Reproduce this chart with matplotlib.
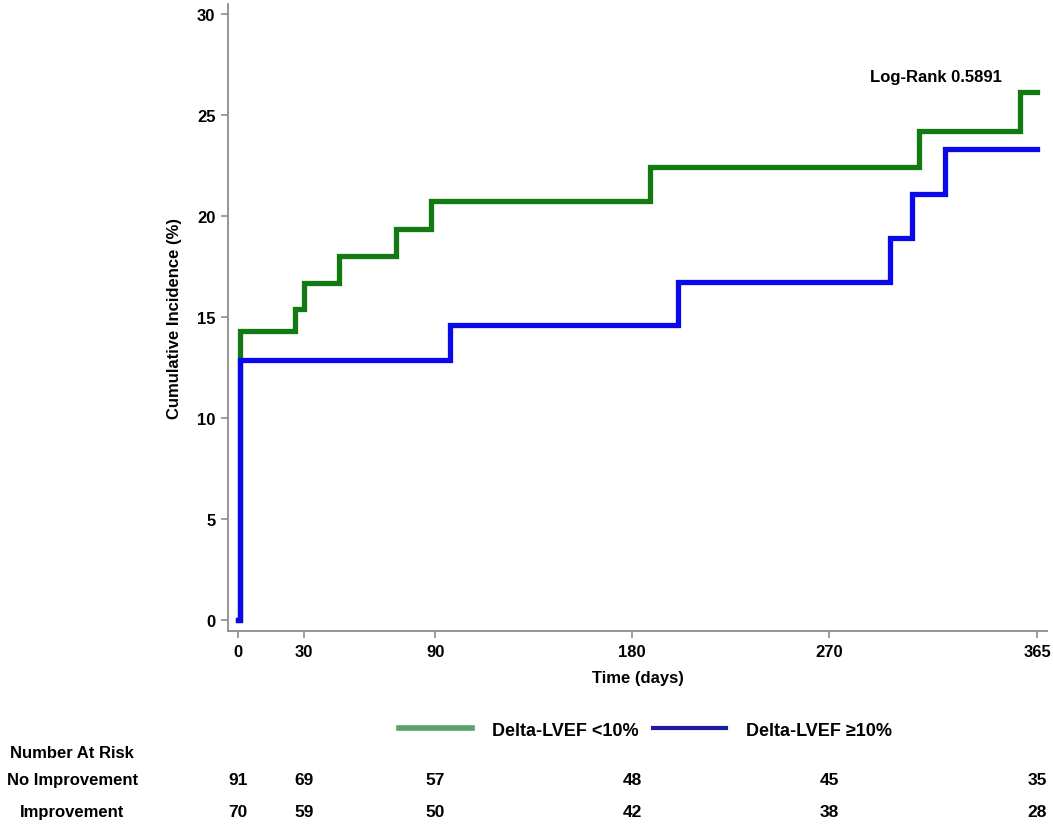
import matplotlib
matplotlib.use('Agg')
import matplotlib.pyplot as plt
from matplotlib.lines import Line2D
from matplotlib.transforms import blended_transform_factory

# step data (days, cumulative incidence %)
no_impr_days = [0, 1, 26, 30, 46, 72, 88, 188, 311, 357, 365]
no_impr_pct = [0, 14.3, 15.4, 16.7, 18.0, 19.35, 20.75, 22.45, 24.2, 26.15, 26.15]
impr_days = [0, 1, 97, 201, 298, 308, 323, 365]
impr_pct = [0, 12.85, 14.6, 16.75, 18.9, 21.1, 23.3, 23.3]

x_ticks = [0, 30, 90, 180, 270, 365]
y_ticks = [0, 5, 10, 15, 20, 25, 30]
risk_days = [0, 30, 90, 180, 270, 365]
risk_no_impr = [91, 69, 57, 48, 45, 35]
risk_impr = [70, 59, 50, 42, 38, 28]

narrow = ['Liberation Sans Narrow', 'Liberation Sans', 'DejaVu Sans']
plt.rcParams['font.family'] = ['Liberation Sans', 'DejaVu Sans']
plt.rcParams['font.weight'] = 'bold'

fig = plt.figure(figsize=(10.53, 8.28), dpi=100)
ax = fig.add_axes([0.2165, 0.2367, 0.7778, 0.7573])

ax.step(no_impr_days, no_impr_pct, where='post', color='#137a13', lw=3.8, solid_joinstyle='miter')
ax.step(impr_days, impr_pct, where='post', color='#0a0ae8', lw=3.8, solid_joinstyle='miter')

ax.set_xlim(-4.6, 369.5)
ax.set_ylim(-0.55, 30.5)
ax.set_xticks(x_ticks)
ax.set_yticks(y_ticks)
for s in ['top', 'right']:
    ax.spines[s].set_visible(False)
for s in ['left', 'bottom']:
    ax.spines[s].set_color('#8c8c8c')
    ax.spines[s].set_linewidth(1.3)
ax.tick_params(colors='#8c8c8c', labelcolor='black', length=5, width=1.2, labelsize=12, pad=4)
for lab in ax.get_xticklabels() + ax.get_yticklabels():
    lab.set_fontweight('bold')

ax.set_xlabel('Time (days)', fontsize=12, fontweight='bold', labelpad=8)
ax.set_ylabel('Cumulative Incidence (%)', fontsize=12, fontweight='bold', labelpad=11)

ax.text(349, 26.9, 'Log-Rank 0.5891', ha='right', va='center', fontsize=12, fontweight='bold')

# legend
handles = [Line2D([], [], color='#5aa06a', lw=4),
           Line2D([], [], color='#1c1c9c', lw=3)]
fig.legend(handles, ['Delta-LVEF <10%', 'Delta-LVEF \u226510%'], ncol=2, loc='center',
           bbox_to_anchor=(0.613, 0.117), frameon=False, handlelength=4.0,
           handletextpad=1.1, columnspacing=0.85,
           prop={'family': narrow, 'weight': 'bold', 'size': 13})

# number at risk table
tr = blended_transform_factory(ax.transData, fig.transFigure)
fig.text(0.0685, 0.0894, 'Number At Risk', ha='center', va='center', fontsize=12,
         fontweight='bold', family=narrow)
fig.text(0.0685, 0.0568, 'No Improvement', ha='center', va='center', fontsize=12,
         fontweight='bold', family=narrow)
fig.text(0.0685, 0.0193, 'Improvement', ha='center', va='center', fontsize=12,
         fontweight='bold', family=narrow)
for d, a, b in zip(risk_days, risk_no_impr, risk_impr):
    ax.text(d, 0.0568, str(a), transform=tr, ha='center', va='center', fontsize=12.5,
            fontweight='bold', family=narrow, clip_on=False)
    ax.text(d, 0.0193, str(b), transform=tr, ha='center', va='center', fontsize=12.5,
            fontweight='bold', family=narrow, clip_on=False)

fig.savefig('out.png', dpi=100)
